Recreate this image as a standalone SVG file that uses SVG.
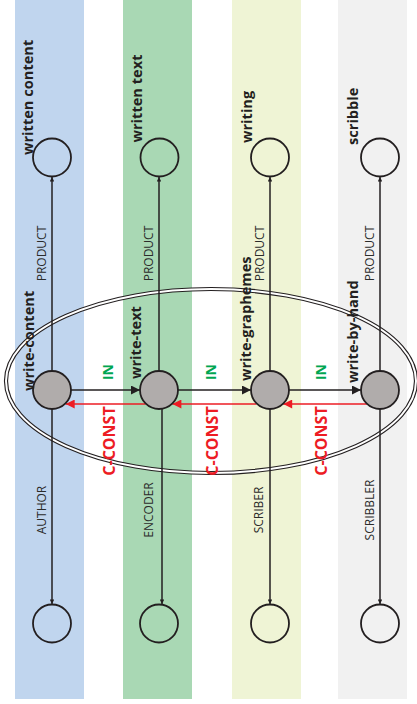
<svg xmlns="http://www.w3.org/2000/svg" width="417" height="704" viewBox="0 0 417 704">
  <style>
    .lane-blue { fill: #c0d5ee; }
    .lane-green { fill: #a9d8b4; }
    .lane-yellow { fill: #eff4d5; }
    .lane-gray { fill: #f1f1f1; }
    .role { fill: none; stroke: #231f20; stroke-width: 1.8; }
    .proc { fill: #b0acab; stroke: #231f20; stroke-width: 1.8; }
    .edge { fill: none; stroke: #231f20; stroke-width: 1.5; }
    .in { fill: none; stroke: #231f20; stroke-width: 1.5; }
    .cconst { fill: none; stroke: #ed1c24; stroke-width: 1.5; }
    .title { font-family: "Open Sans", "Liberation Sans", sans-serif; font-weight: bold; font-size: 14.6px; fill: #231f20; }
    .elabel { font-family: "Open Sans", "Liberation Sans", sans-serif; font-size: 12px; fill: #2b2b2b; text-anchor: middle; }
    .inlabel { font-family: "Open Sans", "Liberation Sans", sans-serif; font-weight: bold; font-size: 14px; fill: #00a651; text-anchor: middle; }
    .clabel { font-family: "Open Sans", "Liberation Sans", sans-serif; font-weight: bold; font-size: 16px; fill: #ed1c24; text-anchor: middle; }
  </style>
  <defs>
    <marker id="tip-small" viewBox="0 0 10 10" refX="10" refY="5" markerWidth="5" markerHeight="4.5" markerUnits="userSpaceOnUse" orient="auto">
      <path d="M0,0 L10,5 L0,10 z" fill="#231f20"/>
    </marker>
    <marker id="tip-big" viewBox="0 0 10 10" refX="10" refY="5" markerWidth="10" markerHeight="9" markerUnits="userSpaceOnUse" orient="auto">
      <path d="M0,0 L10,5 L0,10 z" fill="#231f20"/>
    </marker>
    <marker id="tip-red" viewBox="0 0 10 10" refX="10" refY="5" markerWidth="10.5" markerHeight="9" markerUnits="userSpaceOnUse" orient="auto">
      <path d="M0,0 L10,5 L0,10 z" fill="#ed1c24"/>
    </marker>
  </defs>

  <!-- swimlanes -->
  <g id="lanes">
    <rect class="lane-blue" x="15" y="0" width="69" height="699"/>
    <rect class="lane-green" x="123" y="0" width="69" height="699"/>
    <rect class="lane-yellow" x="232" y="0" width="69" height="699"/>
    <rect class="lane-gray" x="338" y="0" width="69" height="699"/>
  </g>

  <!-- double-line grouping ellipse -->
  <g id="group-ellipse">
    <ellipse cx="211" cy="381" rx="205" ry="92" fill="none" stroke="#231f20" stroke-width="4.2"/>
    <ellipse cx="211" cy="381" rx="205" ry="92" fill="none" stroke="#ffffff" stroke-width="2"/>
  </g>

  <g id="connectors">
    <!-- PRODUCT edges (upward) -->
    <line class="edge" x1="52" y1="371" x2="52" y2="177" marker-end="url(#tip-small)"/>
    <line class="edge" x1="159" y1="371" x2="159" y2="177" marker-end="url(#tip-small)"/>
    <line class="edge" x1="270" y1="371" x2="270" y2="177" marker-end="url(#tip-small)"/>
    <line class="edge" x1="380" y1="371" x2="380" y2="177" marker-end="url(#tip-small)"/>
    <!-- agent edges (downward) -->
    <line class="edge" x1="52" y1="409" x2="52" y2="604" marker-end="url(#tip-small)"/>
    <line class="edge" x1="162" y1="409" x2="162" y2="604" marker-end="url(#tip-small)"/>
    <line class="edge" x1="270" y1="409" x2="270" y2="604" marker-end="url(#tip-small)"/>
    <line class="edge" x1="380" y1="409" x2="380" y2="604" marker-end="url(#tip-small)"/>
    <!-- IN edges -->
    <line class="in" x1="71" y1="390" x2="140" y2="390" marker-end="url(#tip-big)"/>
    <line class="in" x1="178" y1="390" x2="251" y2="390" marker-end="url(#tip-big)"/>
    <line class="in" x1="289" y1="390" x2="361" y2="390" marker-end="url(#tip-big)"/>
    <!-- C-CONST edges -->
    <line class="cconst" x1="145.6" y1="404" x2="65.7" y2="404" marker-end="url(#tip-red)"/>
    <line class="cconst" x1="256.4" y1="404" x2="172.4" y2="404" marker-end="url(#tip-red)"/>
    <line class="cconst" x1="366.9" y1="404" x2="283.2" y2="404" marker-end="url(#tip-red)"/>
  </g>

  <!-- edge labels -->
  <g id="edge-labels">
    <text class="elabel" transform="translate(46,253.5) rotate(-90)">PRODUCT</text>
    <text class="elabel" transform="translate(153,253.5) rotate(-90)">PRODUCT</text>
    <text class="elabel" transform="translate(264,253.5) rotate(-90)">PRODUCT</text>
    <text class="elabel" transform="translate(374,253.5) rotate(-90)">PRODUCT</text>
    <text class="elabel" transform="translate(46,510) rotate(-90)">AUTHOR</text>
    <text class="elabel" transform="translate(153,510) rotate(-90)">ENCODER</text>
    <text class="elabel" transform="translate(263,510) rotate(-90)">SCRIBER</text>
    <text class="elabel" transform="translate(374,510) rotate(-90)">SCRIBBLER</text>
    <text class="inlabel" transform="translate(113,372) rotate(-90)">IN</text>
    <text class="inlabel" transform="translate(216,372) rotate(-90)">IN</text>
    <text class="inlabel" transform="translate(326,372) rotate(-90)">IN</text>
    <text class="clabel" transform="translate(115,441) rotate(-90)">C-CONST</text>
    <text class="clabel" transform="translate(218,441) rotate(-90)">C-CONST</text>
    <text class="clabel" transform="translate(327,441) rotate(-90)">C-CONST</text>
  </g>

  <!-- result nodes -->
  <g id="written-content">
    <circle class="role" cx="52" cy="157.5" r="19"/>
    <text class="title" transform="translate(33,155) rotate(-90)">written content</text>
  </g>
  <g id="written-text">
    <circle class="role" cx="159.5" cy="157.5" r="19"/>
    <text class="title" transform="translate(142,142.5) rotate(-90)">written text</text>
  </g>
  <g id="writing">
    <circle class="role" cx="270" cy="157.5" r="19"/>
    <text class="title" transform="translate(252,143) rotate(-90)">writing</text>
  </g>
  <g id="scribble">
    <circle class="role" cx="380" cy="157.5" r="19"/>
    <text class="title" transform="translate(358,145) rotate(-90)">scribble</text>
  </g>

  <!-- process nodes -->
  <g id="write-content">
    <circle class="proc" cx="52" cy="390" r="19"/>
    <text class="title" transform="translate(33.5,391) rotate(-90)">write-content</text>
  </g>
  <g id="write-text">
    <circle class="proc" cx="159" cy="390" r="19"/>
    <text class="title" transform="translate(140.5,379) rotate(-90)">write-text</text>
  </g>
  <g id="write-graphemes">
    <circle class="proc" cx="270" cy="390" r="19"/>
    <text class="title" transform="translate(250.5,381) rotate(-90)">write-graphemes</text>
  </g>
  <g id="write-by-hand">
    <circle class="proc" cx="380" cy="390" r="19"/>
    <text class="title" transform="translate(358,383) rotate(-90)">write-by-hand</text>
  </g>

  <!-- agent nodes -->
  <g id="author">
    <circle class="role" cx="52" cy="623.5" r="19"/>
  </g>
  <g id="encoder">
    <circle class="role" cx="159" cy="623.5" r="19"/>
  </g>
  <g id="scriber">
    <circle class="role" cx="270" cy="623.5" r="19"/>
  </g>
  <g id="scribbler">
    <circle class="role" cx="380" cy="623.5" r="19"/>
  </g>
</svg>
